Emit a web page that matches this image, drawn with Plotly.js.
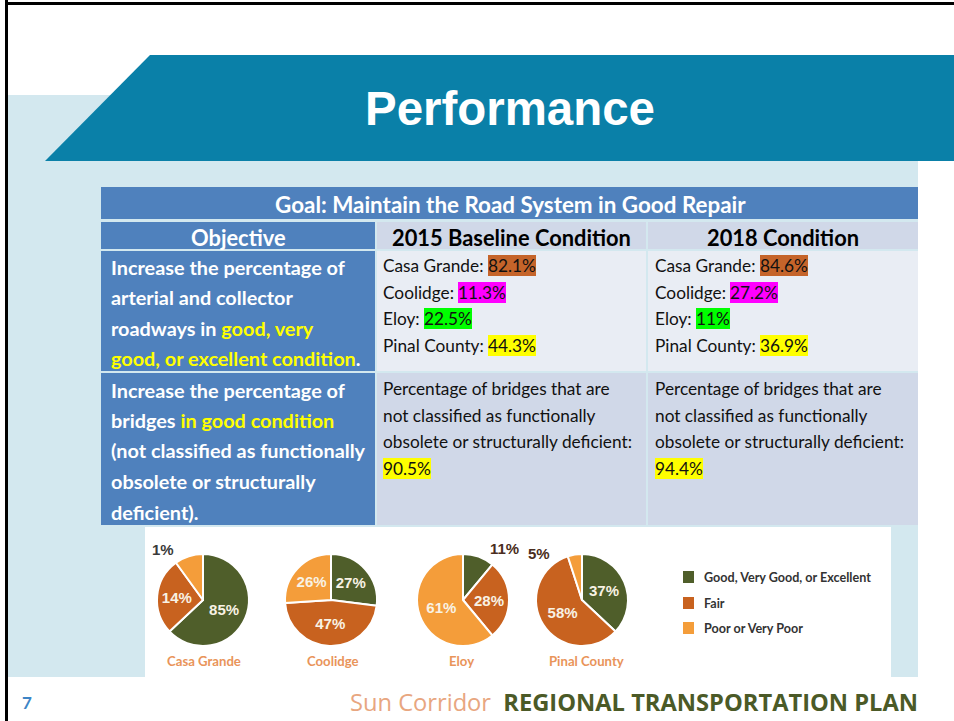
<!DOCTYPE html>
<html><head><meta charset="utf-8">
<script src="https://cdn.plot.ly/plotly-3.0.1.min.js"></script>
<style>html,body{margin:0;padding:0;background:#fff}#chart{width:954px;height:721px}</style>
</head><body><div id="chart"></div>
<script>
// ---------------- DATA ----------------
const conditionCategories = ['Good, Very Good, or Excellent', 'Fair', 'Poor or Very Poor'];
const cities = ['Casa Grande', 'Coolidge', 'Eloy', 'Pinal County'];
// slice sizes as drawn in the picture (order: good, fair, poor)
const casaGrandeShares = [63, 27, 10];
const coolidgeShares = [27, 47, 26];
const eloyShares = [11, 28, 61];
const pinalCountyShares = [37, 58, 5];
// percentage labels as printed on the pies
const casaGrandeLabels = ['85%', '14%', '1%'];
const coolidgeLabels = ['27%', '47%', '26%'];
const eloyLabels = ['11%', '28%', '61%'];
const pinalCountyLabels = ['37%', '58%', '5%'];
// table values
const baseline2015 = ['82.1%', '11.3%', '22.5%', '44.3%'];
const condition2018 = ['84.6%', '27.2%', '11%', '36.9%'];
const bridges2015 = '90.5%';
const bridges2018 = '94.4%';

// ---------------- HELPERS ----------------
const W = 954, H = 721;
const X = v => v / W, Y = v => 1 - v / H;
const cvs = document.createElement('canvas').getContext('2d');
function measure(text, weight, size, family) { cvs.font = `${weight} ${size}px ${family}`; return cvs.measureText(text).width; }
function fit(text, weight, family, target) { return 100 * target / measure(text, weight, 100, family); }

const shapes = [], annotations = [];
function rect(x0, y0, x1, y1, color, layer) {
  shapes.push({type: 'rect', xref: 'paper', yref: 'paper', x0: X(x0), x1: X(x1), y0: Y(y1), y1: Y(y0),
    fillcolor: color, line: {width: 0}, layer: layer || 'below'});
}
function txt(x, y, text, font, opts) {
  annotations.push(Object.assign({xref: 'paper', yref: 'paper', x: X(x), y: Y(y), text: text, showarrow: false,
    xanchor: 'left', yanchor: 'middle', borderpad: 0, borderwidth: 0, font: font}, opts || {}));
}

const CAL = 'Lato';
const CALF = 'Lato, "Open Sans", sans-serif';
const BLUE = '#4f81bd', LIGHT1 = '#d0d8e8', LIGHT2 = '#e9edf4', YEL = '#ffff00';
const greenC = '#4f5e2a', fairC = '#c8621f', poorC = '#f49d3a';
const hlColors = ['#c5642a', '#ff00ff', '#00ff00', '#ffff00'];

// ---------------- BACKGROUND ----------------
rect(8, 95, 918, 677, '#d3e8ef');
shapes.push({type: 'path', xref: 'paper', yref: 'paper', layer: 'below',
  path: `M ${X(150)} ${Y(55)} L ${X(954)} ${Y(55)} L ${X(954)} ${Y(161)} L ${X(45)} ${Y(161)} Z`,
  fillcolor: '#0a80a8', line: {width: 0}});
shapes.push({type: 'line', xref: 'paper', yref: 'paper', x0: X(6.5), x1: X(6.5), y0: 0, y1: 1, line: {color: '#000', width: 3}, layer: 'above'});
shapes.push({type: 'line', xref: 'paper', yref: 'paper', x0: X(5), x1: 1, y0: Y(3.5), y1: Y(3.5), line: {color: '#000', width: 3}, layer: 'above'});
// white picture area for pies
rect(145, 527, 891, 680, '#ffffff');

const titleSize = fit('Performance', 'bold', 'Liberation Sans', 290);
txt(510, 109, 'Performance', {family: 'Liberation Sans, Arial, sans-serif', size: titleSize, color: '#ffffff', weight: 'bold'}, {xanchor: 'center'});

// ---------------- TABLE ----------------
const c1 = [101, 375], c2 = [377, 646], c3 = [648, 918];
rect(101, 187, 918, 219, BLUE);
rect(c1[0], 222, c1[1], 249, BLUE); rect(c2[0], 222, c2[1], 249, LIGHT1); rect(c3[0], 222, c3[1], 249, LIGHT1);
rect(c1[0], 251, c1[1], 371, BLUE); rect(c2[0], 251, c2[1], 371, LIGHT2); rect(c3[0], 251, c3[1], 371, LIGHT2);
rect(c1[0], 373, c1[1], 525, BLUE); rect(c2[0], 373, c2[1], 525, LIGHT1); rect(c3[0], 373, c3[1], 525, LIGHT1);

const goalText = 'Goal: Maintain the Road System in Good Repair';
const goalSize = fit(goalText, 'bold', CAL, 471);
txt(510, 204, goalText, {family: CALF, size: goalSize, color: '#fff', weight: 'bold'}, {xanchor: 'center'});
const headSize = fit('2015 Baseline Condition', 'bold', CAL, 239);
txt((c1[0] + c1[1]) / 2, 237, 'Objective', {family: CALF, size: headSize, color: '#fff', weight: 'bold'}, {xanchor: 'center'});
txt((c2[0] + c2[1]) / 2, 237, '2015 Baseline Condition', {family: CALF, size: headSize, color: '#000', weight: 'bold'}, {xanchor: 'center'});
txt((c3[0] + c3[1]) / 2, 237, '2018 Condition', {family: CALF, size: headSize, color: '#000', weight: 'bold'}, {xanchor: 'center'});

const objSize = fit('Increase the percentage of', 'bold', CAL, 234);
const objFont = {family: CALF, size: objSize, color: '#fff', weight: 'bold'};
const Yw = s => `<span style="color:${YEL}">${s}</span>`;
const obj1 = ['Increase the percentage of', 'arterial and collector', 'roadways in ' + Yw('good, very'), Yw('good, or excellent condition') + '.'];
const obj1Y = [267, 297, 328, 358];
obj1.forEach((t, i) => txt(111, obj1Y[i], t, objFont));
const obj2 = ['Increase the percentage of', 'bridges ' + Yw('in good condition'), '(not classified as functionally', 'obsolete or structurally', 'deficient).'];
const obj2Y = [390, 420, 450, 481, 512];
obj2.forEach((t, i) => txt(111, obj2Y[i], t, objFont));

const bodySize = fit('obsolete or structurally deficient:', 'normal', CAL, 250);
const bodyFont = {family: CALF, size: bodySize, color: '#111'};
const prefixes = cities.map(c => c + ':');
const rowY = [265, 292, 318, 345];
function cityColumn(x0, vals) {
  prefixes.forEach((p, i) => {
    txt(x0, rowY[i], p, bodyFont);
    const off = measure(p + ' ', 'normal', bodySize, CAL);
    txt(x0 + off, rowY[i], vals[i], bodyFont, {bgcolor: hlColors[i]});
  });
}
cityColumn(383, baseline2015);
cityColumn(655, condition2018);
const bridgeLines = ['Percentage of bridges that are', 'not classified as functionally', 'obsolete or structurally deficient:'];
const bridgeY = [388, 415, 442];
[[383, bridges2015], [655, bridges2018]].forEach(([x0, v]) => {
  bridgeLines.forEach((t, i) => txt(x0, bridgeY[i], t, bodyFont));
  txt(x0, 468, v, bodyFont, {bgcolor: YEL});
});

// ---------------- PIES ----------------
const pieData = [casaGrandeShares, coolidgeShares, eloyShares, pinalCountyShares];
const pieLabels = [casaGrandeLabels, coolidgeLabels, eloyLabels, pinalCountyLabels];
const pieCx = [203, 331, 463, 582], pieCy = 600, pieR = 46;
const insidePos = [['inside', 'inside', 'none'], ['inside', 'inside', 'inside'], ['none', 'inside', 'inside'], ['inside', 'inside', 'none']];
const traces = pieData.map((vals, k) => ({
  type: 'pie', values: vals, labels: conditionCategories, text: pieLabels[k], textinfo: 'text',
  textposition: insidePos[k], insidetextorientation: 'horizontal', sort: false, direction: 'clockwise', rotation: 0,
  marker: {colors: [greenC, fairC, poorC], line: {color: '#ffffff', width: 2}},
  textfont: {family: 'Liberation Sans, Arial, sans-serif', size: 15, color: '#f8f2e4', weight: 'bold'},
  hoverinfo: 'none', showlegend: false,
  domain: {x: [X(pieCx[k] - pieR), X(pieCx[k] + pieR)], y: [Y(pieCy + pieR), Y(pieCy - pieR)]}
}));
const outFont = c => ({family: 'Liberation Sans, Arial, sans-serif', size: 15, color: c, weight: 'bold'});
txt(163, 549, casaGrandeLabels[2], outFont('#3a3a3a'), {xanchor: 'center'});
txt(505, 548, eloyLabels[0], outFont('#4a2d20'), {xanchor: 'center'});
txt(539, 553, pinalCountyLabels[2], outFont('#4a2d20'), {xanchor: 'center'});

const cityLabSize = fit('Casa Grande', 'bold', CAL, 74);
const cityX = [204, 333, 461, 586];
cities.forEach((c, i) => txt(cityX[i], 661, c, {family: CALF, size: cityLabSize, color: '#e9945a', weight: 'bold'}, {xanchor: 'center'}));

// legend
const legY = [577, 603, 628];
const legSize = fit(conditionCategories[0], 'bold', CAL, 168);
conditionCategories.forEach((c, i) => {
  rect(683, legY[i] - 6, 694, legY[i] + 6, [greenC, fairC, poorC][i], 'above');
  txt(704, legY[i], c, {family: CALF, size: legSize, color: '#333', weight: 'bold'});
});

// ---------------- FOOTER ----------------
txt(22, 702, '7', {family: CALF, size: 17, color: '#3d85c6', weight: 'bold'});
const footSize = fit('REGIONAL TRANSPORTATION PLAN', 'bold', 'Open Sans', 415);
txt(918, 702, '<span style="color:#e8a680;font-weight:normal">Sun Corridor </span> <b>REGIONAL TRANSPORTATION PLAN</b>',
  {family: 'Open Sans, sans-serif', size: footSize, color: '#4b5a27'}, {xanchor: 'right'});

Plotly.newPlot('chart', traces, {
  width: W, height: H, margin: {l: 0, r: 0, t: 0, b: 0}, paper_bgcolor: '#ffffff', plot_bgcolor: '#ffffff',
  showlegend: false, shapes: shapes, annotations: annotations
}, {staticPlot: true, displayModeBar: false});
</script></body></html>
